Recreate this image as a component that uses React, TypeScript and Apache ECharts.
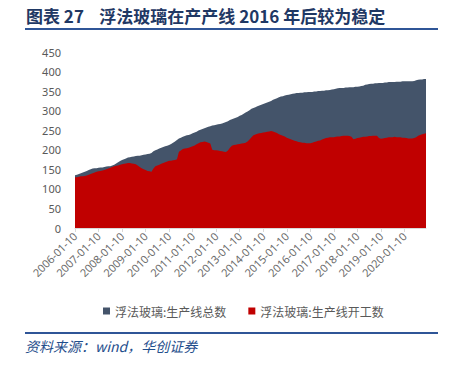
import React, { useEffect, useRef } from "react";
import * as echarts from "echarts";

const years = [2006, 2007, 2008, 2009, 2010, 2011, 2012, 2013, 2014, 2015, 2016, 2017, 2018, 2019, 2020];
const categories: string[] = [];
years.forEach((y) => {
  for (let m = 1; m <= 12; m++) categories.push(`${y}-${m < 10 ? "0" + m : m}-10`);
});

const totalLines = [
  135, 136, 138, 140, 142, 144, 146, 148, 150, 152, 153, 153,
  154, 155, 155, 156, 157, 158, 158, 160, 162, 165, 168, 171,
  174, 176, 178, 180, 181, 182, 183, 184, 185, 185, 186, 187,
  188, 189, 190, 192, 196, 199, 201, 203, 205, 207, 209, 210,
  212, 215, 218, 221, 225, 229, 231, 233, 235, 237, 238, 240,
  242, 244, 246, 249, 251, 253, 255, 257, 259, 260, 262, 263,
  264, 265, 266, 267, 269, 271, 273, 276, 278, 280, 282, 284,
  287, 289, 292, 295, 298, 301, 305, 307, 309, 311, 313, 315,
  317, 319, 321, 323, 325, 328, 330, 332, 334, 336, 337, 339,
  340, 341, 342, 343, 344, 345, 345, 346, 346, 347, 347, 348,
  348, 348, 349, 349, 350, 350, 351, 351, 352, 352, 353, 354,
  355, 356, 357, 358, 358, 358, 359, 359, 360, 360, 360, 361,
  361, 362, 363, 364, 366, 367, 368, 369, 369, 370, 370, 371,
  371, 371, 372, 372, 373, 373, 373, 373, 374, 374, 374, 375,
  375, 375, 375, 375, 375, 376, 378, 379, 380, 380, 381, 381,
];

const openLines = [
  130, 130, 131, 132, 132, 133, 134, 136, 138, 140, 142, 144,
  145, 146, 147, 148, 150, 152, 154, 156, 158, 159, 160, 162,
  163, 164, 165, 166, 166, 165, 164, 163, 160, 156, 153, 150,
  148, 146, 145, 144, 152, 158, 160, 162, 164, 166, 168, 170,
  172, 172, 173, 174, 176, 195, 198, 202, 203, 204, 205, 207,
  209, 211, 214, 217, 219, 220, 221, 220, 218, 216, 200, 199,
  199, 198, 197, 196, 195, 194, 198, 205, 210, 212, 213, 214,
  215, 216, 217, 218, 221, 226, 232, 237, 239, 241, 242, 243,
  244, 245, 246, 247, 248, 247, 245, 243, 240, 238, 236, 234,
  231, 229, 227, 225, 223, 222, 220, 219, 218, 218, 217, 217,
  217, 218, 220, 221, 223, 224, 226, 228, 230, 231, 232, 232,
  232, 233, 234, 234, 235, 236, 236, 236, 235, 233, 227, 228,
  230, 231, 232, 233, 233, 234, 235, 235, 236, 236, 236, 230,
  228, 229, 230, 231, 232, 232, 232, 233, 232, 232, 232, 231,
  231, 230, 229, 229, 229, 230, 232, 236, 238, 240, 241, 242,
];

const seriesNames = ["浮法玻璃:生产线总数", "浮法玻璃:生产线开工数"];
const titleText = "图表 27    浮法玻璃在产产线 2016 年后较为稳定";
const sourceText = "资料来源：wind，华创证券";

export default function App() {
  const ref = useRef<HTMLDivElement>(null);
  useEffect(() => {
    if (!ref.current) return;
    const chart = echarts.init(ref.current, null, { renderer: "svg" });
    chart.setOption({
      animation: false,
      backgroundColor: "#ffffff",
      grid: { left: 75, right: 29, top: 52, bottom: 139 },
      legend: {
        left: 98,
        top: 300,
        itemWidth: 7,
        itemHeight: 7,
        itemGap: 22,
        icon: "rect",
        textStyle: { fontSize: 12, color: "#595959", fontFamily: "Noto Sans CJK SC" },
        data: seriesNames,
      },
      xAxis: {
        type: "category",
        data: categories,
        boundaryGap: false,
        axisLine: { lineStyle: { color: "#d9d9d9" } },
        axisTick: { interval: 11, length: 4, lineStyle: { color: "#d9d9d9" } },
        axisLabel: {
          interval: 11,
          rotate: 45,
          fontSize: 11,
          color: "#6b6b6b",
          margin: 6,
          fontFamily: "Noto Sans",
        },
      },
      yAxis: {
        type: "value",
        min: 0,
        max: 450,
        interval: 50,
        splitLine: { show: false },
        axisLine: { show: false },
        axisTick: { show: false },
        axisLabel: { fontSize: 11, color: "#595959", margin: 14, fontFamily: "Noto Sans" },
      },
      series: [
        {
          name: seriesNames[0],
          type: "line",
          data: totalLines,
          showSymbol: false,
          symbol: "none",
          lineStyle: { width: 0 },
          itemStyle: { color: "#44546a" },
          areaStyle: { color: "#44546a", opacity: 1 },
        },
        {
          name: seriesNames[1],
          type: "line",
          data: openLines,
          showSymbol: false,
          symbol: "none",
          lineStyle: { width: 0 },
          itemStyle: { color: "#c00000" },
          areaStyle: { color: "#c00000", opacity: 1 },
        },
      ],
      graphic: [
        {
          type: "text",
          left: 26,
          top: 7,
          style: {
            text: titleText,
            fontSize: 17,
            fontWeight: "bold",
            fill: "#1f3864",
            fontFamily: "Noto Sans CJK SC",
          },
        },
        {
          type: "rect",
          shape: { x: 25, y: 28, width: 413, height: 2 },
          style: { fill: "#2f5597" },
        },
        {
          type: "rect",
          shape: { x: 25, y: 332, width: 413, height: 2 },
          style: { fill: "#2f5597" },
        },
        {
          type: "text",
          left: 25,
          top: 339,
          style: {
            text: sourceText,
            fontSize: 14,
            fontStyle: "italic",
            fill: "#1f4e8c",
            fontFamily: "Noto Sans CJK SC",
          },
        },
      ],
    });
    return () => chart.dispose();
  }, []);
  return (
    <div
      ref={ref}
      style={{ position: "fixed", left: 0, top: 0, width: 455, height: 367 }}
    />
  );
}
